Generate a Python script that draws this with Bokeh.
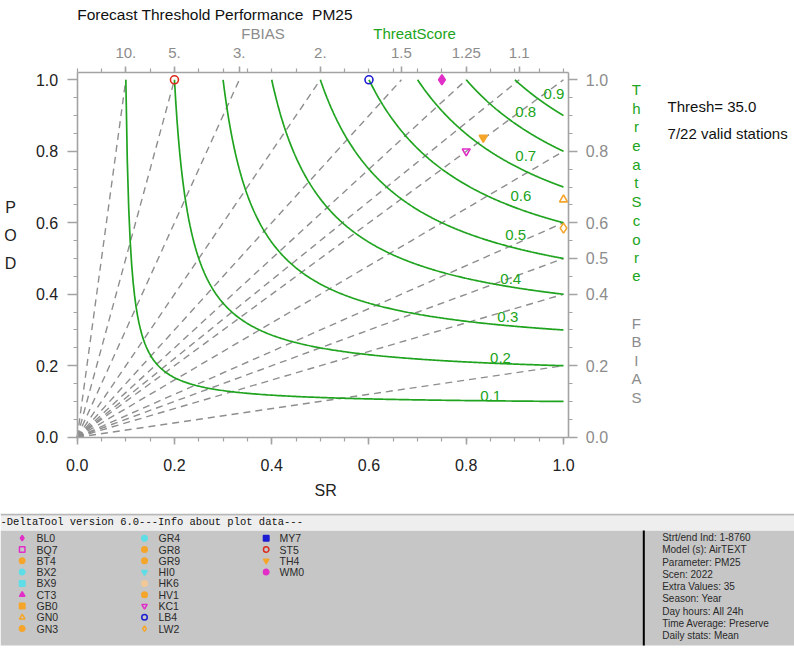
import numpy as np
from bokeh.plotting import figure
from bokeh.models import (LinearAxis, FixedTicker, CustomJSTickFormatter, Range1d,
                          Label, ColumnDataSource, PrintfTickFormatter)
from bokeh.layouts import column
from bokeh.embed import file_html
from bokeh.resources import INLINE
from bokeh.core.properties import value

# ---------------- data ----------------
title_text = "Forecast Threshold Performance\u00a0 PM25"
thresh_text = "Thresh= 35.0"
valid_text = "7/22 valid stations"

ts_levels = [0.1, 0.2, 0.3, 0.4, 0.5, 0.6, 0.7, 0.8, 0.9]
ts_labels = ["0.1", "0.2", "0.3", "0.4", "0.5", "0.6", "0.7", "0.8", "0.9"]
bias_levels = [0.2, 0.4, 0.5, 0.6, 0.8, 1.0, 1.1, 1.25, 1.5, 2.0, 3.0, 5.0, 10.0]
top_bias_ticks = [10.0, 5.0, 3.0, 2.0, 1.5, 1.25, 1.1]
top_bias_labels = ["10.", "5.", "3.", "2.", "1.5", "1.25", "1.1"]
right_bias_ticks = [0.0, 0.2, 0.4, 0.5, 0.6, 0.8, 1.0]
axis_ticks = [0.0, 0.2, 0.4, 0.6, 0.8, 1.0]

stations = ["BL0", "BQ7", "BT4", "BX2", "BX9", "CT3", "GB0", "GN0", "GN3",
            "GR4", "GR8", "GR9", "HI0", "HK6", "HV1", "KC1", "LB4", "LW2",
            "MY7", "ST5", "TH4", "WM0"]
MAG, ORA, CYA, BLU, RED, TAN = "#e22ec8", "#f5a52a", "#5fdde6", "#1c1cd2", "#dc2a1c", "#f1c898"
station_colors = [MAG, MAG, ORA, CYA, CYA, MAG, ORA, ORA, ORA,
                  CYA, ORA, ORA, CYA, TAN, ORA, MAG, BLU, ORA,
                  BLU, RED, ORA, MAG]
station_markers = ["diamond", "square", "circle", "circle", "square", "triangle", "square", "triangle", "circle",
                   "circle", "circle", "circle", "inverted_triangle", "circle", "circle", "inverted_triangle", "circle", "diamond",
                   "square", "circle", "inverted_triangle", "circle"]
station_filled = [1, 0, 1, 1, 1, 1, 1, 0, 1,
                  1, 1, 1, 1, 1, 1, 0, 0, 0,
                  1, 0, 1, 1]

valid_stations = ["ST5", "LB4", "BL0", "TH4", "KC1", "GN0", "LW2"]
valid_sr = [0.20, 0.60, 0.75, 0.835, 0.80, 1.00, 1.00]
valid_pod = [1.00, 1.00, 1.00, 0.838, 0.80, 0.665, 0.585]

header_text = "-DeltaTool version 6.0---Info about plot data---"
info_lines = ["Strt/end Ind: 1-8760", "Model (s): AirTEXT", "Parameter: PM25", "Scen: 2022",
              "Extra Values: 35", "Season: Year", "Day hours: All 24h",
              "Time Average: Preserve", "Daily stats: Mean"]

# ---------------- styles / layout constants ----------------
GREEN = "#20a420"
GREY_AX = "#a3a3a3"
GREY_TXT = "#8c8c8c"
DASH = "#8e8e8e"
FONT = "Liberation Sans"

X_END = 1.0109      # right axis position (SR units)
Y_END = 1.0204      # top axis position (POD units)
PX_Y = 357.4        # pixels per POD unit
PX_X = 486.3        # pixels per SR unit

p = figure(width=794, height=513, title=None,
           x_range=Range1d(-0.15772, 1.47500), y_range=Range1d(-0.21349, 1.22188),
           output_backend="svg", toolbar_location=None,
           x_axis_location=None, y_axis_location=None, min_border=0)
p.grid.visible = False
p.outline_line_color = None
p.background_fill_color = "white"
p.border_fill_color = "white"

minor = [round(0.05 * i, 4) for i in range(21)]


def style_axis(ax, label_color, tick_out=8):
    ax.axis_line_color = GREY_AX
    ax.axis_line_width = 1.6
    ax.major_tick_line_color = GREY_AX
    ax.major_tick_line_width = 1.6
    ax.minor_tick_line_color = GREY_AX
    ax.minor_tick_line_width = 1.2
    ax.major_tick_in = 0
    ax.major_tick_out = tick_out
    ax.minor_tick_in = 0
    ax.minor_tick_out = 4
    ax.major_label_text_font = FONT
    ax.major_label_text_font_size = "16px"
    ax.major_label_text_color = label_color


bottom = LinearAxis(fixed_location=0.0, bounds=(0.0, X_END),
                    ticker=FixedTicker(ticks=axis_ticks, minor_ticks=minor),
                    formatter=PrintfTickFormatter(format="%.1f"))
style_axis(bottom, "#222222", 7)
bottom.major_label_standoff = 15
p.add_layout(bottom, "below")

left = LinearAxis(fixed_location=0.0, bounds=(0.0, Y_END),
                  ticker=FixedTicker(ticks=axis_ticks, minor_ticks=minor),
                  formatter=PrintfTickFormatter(format="%.1f"))
style_axis(left, "#222222", 10)
left.major_label_standoff = 9
p.add_layout(left, "left")

top_pos = [1.0 / b for b in top_bias_ticks]
top = LinearAxis(fixed_location=Y_END, bounds=(0.0, X_END),
                 ticker=FixedTicker(ticks=top_pos, minor_ticks=minor),
                 formatter=CustomJSTickFormatter(
                     args=dict(vals=top_pos, labels=top_bias_labels),
                     code="""
                     for (let i = 0; i < vals.length; i++) {
                         if (Math.abs(vals[i] - tick) < 1e-6) { return labels[i]; }
                     }
                     return '';
                     """))
style_axis(top, GREY_TXT, 6)
top.major_label_text_font_size = "15px"
top.major_label_standoff = 9
p.add_layout(top, "above")

right = LinearAxis(fixed_location=X_END, bounds=(0.0, Y_END),
                   ticker=FixedTicker(ticks=right_bias_ticks, minor_ticks=minor),
                   formatter=PrintfTickFormatter(format="%.1f"))
style_axis(right, GREY_TXT, 9)
right.major_label_standoff = 8
p.add_layout(right, "right")

# bias (dashed) lines
bx, by = [], []
for b in bias_levels:
    bx.append([0.0, min(1.0, 1.0 / b)])
    by.append([0.0, min(1.0, b)])
p.multi_line(bx, by, line_color=DASH, line_width=1.4, line_dash="7 5")


def ts_curve(ts, sr):
    return 1.0 / (1.0 / ts + 1.0 - 1.0 / sr)


# threat score curves
tx, ty = [], []
for ts in ts_levels:
    s = np.linspace(ts, 1.0, 300)
    tx.append(list(s))
    ty.append(list(ts_curve(ts, s)))
p.multi_line(tx, ty, line_color=GREEN, line_width=1.7)

# TS labels (anchored on the curves, lifted a few pixels)
lab_sr = [0.829, 0.849, 0.864, 0.870, 0.880, 0.891, 0.901, 0.901, 0.959]
lab_lift_px = [5, 5, 8, 6, 10, 10, 10, 12, 9]
lab_pod = [ts_curve(ts, s) + lift / PX_Y for ts, s, lift in zip(ts_levels, lab_sr, lab_lift_px)]
p.text(x=lab_sr, y=lab_pod, text=ts_labels, text_color=GREEN,
       text_font=value(FONT), text_font_size="15px",
       text_align="left", text_baseline="alphabetic")

# station points
idx = [stations.index(s) for s in valid_stations]
src = ColumnDataSource(dict(
    x=valid_sr, y=valid_pod,
    marker=[station_markers[i] for i in idx],
    color=[station_colors[i] for i in idx],
    falpha=[float(station_filled[i]) for i in idx],
    size=[8 if station_markers[i] == "circle" else (10 if station_markers[i] == "diamond" else 8) for i in idx],
))
p.scatter(x="x", y="y", marker="marker", size="size", line_color="color",
          fill_color="color", fill_alpha="falpha", line_width=1.6, source=src)

# texts around the main plot
p.add_layout(Label(x=0.0, y=1.182, text=title_text, text_font=FONT, text_font_size="15.5px",
                   text_color="#111111", text_align="left", text_baseline="middle"))
p.add_layout(Label(x=0.382, y=1.1296, text="FBIAS", text_font=FONT, text_font_size="15px",
                   text_color=GREY_TXT, text_align="center", text_baseline="middle"))
p.add_layout(Label(x=0.6936, y=1.1296, text="ThreatScore", text_font=FONT, text_font_size="15px",
                   text_color=GREEN, text_align="center", text_baseline="middle"))
p.add_layout(Label(x=1.214, y=0.925, text=thresh_text, text_font=FONT, text_font_size="15px",
                   text_color="#111111", text_align="left", text_baseline="middle"))
p.add_layout(Label(x=1.214, y=0.851, text=valid_text, text_font=FONT, text_font_size="15px",
                   text_color="#111111", text_align="left", text_baseline="middle"))
p.add_layout(Label(x=0.511, y=-0.149, text="SR", text_font=FONT, text_font_size="16px",
                   text_color="#222222", text_align="center", text_baseline="middle"))

for i, ch in enumerate("POD"):
    p.add_layout(Label(x=-0.137, y=0.6435 - 0.0783 * i, text=ch, text_font=FONT,
                       text_font_size="16px", text_color="#222222",
                       text_align="center", text_baseline="middle"))
for i, ch in enumerate("ThreatScore"):
    p.add_layout(Label(x=1.150, y=0.9729 - 0.0523 * i, text=ch, text_font=FONT,
                       text_font_size="15px", text_color=GREEN,
                       text_align="center", text_baseline="middle"))
for i, ch in enumerate("FBIAS"):
    p.add_layout(Label(x=1.150, y=0.319 - 0.0518 * i, text=ch, text_font=FONT,
                       text_font_size="15px", text_color=GREY_TXT,
                       text_align="center", text_baseline="middle"))

# ---------------- info panel ----------------
q = figure(width=794, height=135, title=None, x_range=Range1d(0, 794), y_range=Range1d(0, 135),
           output_backend="svg", toolbar_location=None,
           x_axis_location=None, y_axis_location=None, min_border=0)
q.grid.visible = False
q.outline_line_color = None
q.quad(left=[0], right=[794], bottom=[3], top=[118], fill_color="#c6c6c6", line_color=None)
q.quad(left=[0], right=[794], bottom=[118], top=[133], fill_color="#eeeeee", line_color=None)
q.quad(left=[0], right=[794], bottom=[133], top=[135], fill_color="#b8b8b8", line_color=None)
q.text(x=[0], y=[126.5], text=[header_text], text_font=value("Liberation Mono"),
       text_font_size="10.5px", text_color="#111111", text_baseline="middle", text_align="left")
q.segment(x0=[643.3], y0=[3], x1=[643.3], y1=[118], line_color="black", line_width=2)

col_mx = [21.7, 144.0, 265.7]
col_tx = [36.0, 158.0, 279.0]
lx, ly, ltx = [], [], []
for i, s in enumerate(stations):
    c, r = divmod(i, 9)
    lx.append(col_mx[c])
    ltx.append(col_tx[c])
    ly.append(110.3 - 11.3 * r)
lsrc = ColumnDataSource(dict(x=lx, y=ly, tx=ltx, name=stations, marker=station_markers,
                             color=station_colors,
                             falpha=[float(f) for f in station_filled]))
q.scatter(x="x", y="y", marker="marker", size=5.5, line_color="color", fill_color="color",
          fill_alpha="falpha", line_width=1.5, source=lsrc)
q.text(x="tx", y="y", text="name", text_font=value(FONT), text_font_size="10.5px",
       text_color="#2a2a2a", text_baseline="middle", text_align="left", source=lsrc)

q.text(x=[661.7] * len(info_lines), y=[111 - 12.25 * i for i in range(len(info_lines))],
       text=info_lines, text_font=value(FONT), text_font_size="10px",
       text_color="#2a2a2a", text_baseline="middle", text_align="left")

layout = column(p, q, spacing=0)
open("out.html", "w").write(file_html(layout, INLINE))
